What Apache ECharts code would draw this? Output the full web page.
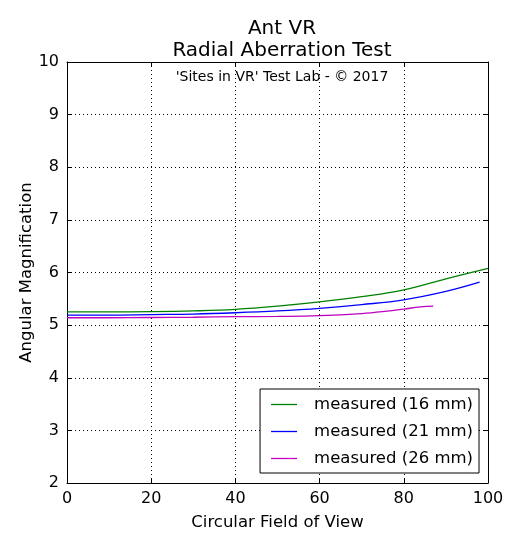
<!DOCTYPE html>
<html><head><meta charset="utf-8">
<script src="https://cdn.jsdelivr.net/npm/echarts@6/dist/echarts.min.js"></script>
<style>html,body{margin:0;padding:0;background:#fff}#c{width:520px;height:549px}</style>
</head><body><div id="c"></div>
<script>
const fov16 = [0,10,20,30,40,50,60,70,80,90,100];
const mag16 = [5.25,5.25,5.255,5.27,5.30,5.36,5.44,5.54,5.67,5.88,6.08];
const fov21 = [0,10,20,30,40,50,60,70,80,90,98];
const mag21 = [5.19,5.19,5.20,5.21,5.235,5.27,5.32,5.39,5.48,5.64,5.815];
const fov26 = [0,10,20,30,40,50,60,70,76,80,84,87];
const mag26 = [5.14,5.14,5.145,5.15,5.16,5.165,5.18,5.22,5.265,5.305,5.345,5.36];
const names = ['measured (16 mm)','measured (21 mm)','measured (26 mm)'];
const colors = ['#008000','#0000ff','#bf00bf'];
const font = 'DejaVu Sans';
const pairs = (xs, ys) => xs.map((x,i)=>[x, ys[i]]);
const chart = echarts.init(document.getElementById('c'));
const axisCommon = {
  axisLine:{show:true,onZero:false,lineStyle:{color:'#000',width:1}},
  axisTick:{show:true,inside:true,length:5,lineStyle:{color:'#000'}},
};
chart.setOption({
  animation:false,
  backgroundColor:'#fff',
  textStyle:{fontFamily:font},
  title:[
    {text:'Ant VR\nRadial Aberration Test',left:277,top:13,textAlign:'center',
     textStyle:{fontFamily:font,fontSize:20,fontWeight:'normal',color:'#000',lineHeight:22}},
    {text:"'Sites in VR' Test Lab - \u00a9 2017",left:277,top:65,textAlign:'center',
     textStyle:{fontFamily:font,fontSize:14,fontWeight:'normal',color:'#000'}}
  ],
  grid:{left:67,right:32,top:62,bottom:66,show:false},
  legend:{
    orient:'vertical',right:41,bottom:76,
    data:names.map(n=>({name:n,icon:'rect'})),
    itemWidth:26,itemHeight:1.3,itemGap:8,
    padding:[6,6,5,11],
    borderColor:'#000',borderWidth:1,borderRadius:0,
    backgroundColor:'#fff',
    textStyle:{fontFamily:font,fontSize:16.5,color:'#000',padding:[0,0,0,12],lineHeight:19}
  },
  xAxis:[
    Object.assign({type:'value',min:0,max:100,interval:20,position:'bottom',
      name:'Circular Field of View',nameLocation:'middle',nameGap:31,nameMoveOverlap:false,
      nameTextStyle:{fontFamily:font,fontSize:16.5,color:'#000'},
      axisLabel:{fontFamily:font,fontSize:16,color:'#000',margin:8},
      splitLine:{show:true,lineStyle:{color:'#000',type:[1,3],width:1}}},axisCommon),
    Object.assign({type:'value',min:0,max:100,interval:20,position:'top',
      axisLabel:{show:false},splitLine:{show:false}},axisCommon)
  ],
  yAxis:[
    Object.assign({type:'value',min:2,max:10,interval:1,position:'left',
      name:'Angular Magnification',nameLocation:'middle',nameGap:32,nameMoveOverlap:false,
      nameTextStyle:{fontFamily:font,fontSize:16.5,color:'#000'},
      axisLabel:{fontFamily:font,fontSize:16,color:'#000',margin:8},
      splitLine:{show:true,lineStyle:{color:'#000',type:[1,3],width:1}}},axisCommon),
    Object.assign({type:'value',min:2,max:10,interval:1,position:'right',
      axisLabel:{show:false},splitLine:{show:false}},axisCommon)
  ],
  series:[
    {name:names[0],type:'line',data:pairs(fov16,mag16),smooth:0.4,symbol:'none',lineStyle:{color:colors[0],width:1.3},itemStyle:{color:colors[0]},z:5},
    {name:names[1],type:'line',data:pairs(fov21,mag21),smooth:0.4,symbol:'none',lineStyle:{color:colors[1],width:1.3},itemStyle:{color:colors[1]},z:5},
    {name:names[2],type:'line',data:pairs(fov26,mag26),smooth:0.4,symbol:'none',lineStyle:{color:colors[2],width:1.3},itemStyle:{color:colors[2]},z:5}
  ]
});
</script></body></html>
